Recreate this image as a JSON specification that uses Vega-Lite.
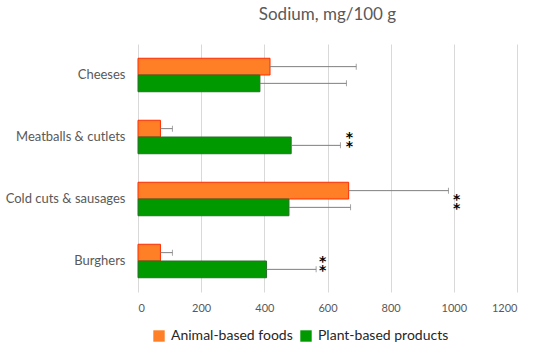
{
  "$schema": "https://vega.github.io/schema/vega-lite/v6.json",
  "width": 379,
  "height": 248,
  "autosize": "none",
  "padding": {"left": 138, "top": 44, "right": 33, "bottom": 62},
  "background": "white",
  "title": {"text": "Sodium, mg/100 g", "anchor": "middle", "fontSize": 17, "font": "Lato", "fontWeight": "normal", "color": "#595959", "offset": 20},
  "config": {"view": {"stroke": null}, "font": "Lato"},
  "datasets": {
    "bars": [
      {"food": "Cheeses", "type": "Animal-based foods", "value": 418, "high": 691},
      {"food": "Cheeses", "type": "Plant-based products", "value": 386, "high": 660},
      {"food": "Meatballs & cutlets", "type": "Animal-based foods", "value": 71, "high": 109},
      {"food": "Meatballs & cutlets", "type": "Plant-based products", "value": 485, "high": 641},
      {"food": "Cold cuts & sausages", "type": "Animal-based foods", "value": 667, "high": 983},
      {"food": "Cold cuts & sausages", "type": "Plant-based products", "value": 478, "high": 673},
      {"food": "Burghers", "type": "Animal-based foods", "value": 71, "high": 109},
      {"food": "Burghers", "type": "Plant-based products", "value": 407, "high": 564}
    ],
    "stars": [
      {"food": "Meatballs & cutlets", "pos": 669},
      {"food": "Cold cuts & sausages", "pos": 1009},
      {"food": "Burghers", "pos": 585}
    ]
  },
  "layer": [
    {
      "data": {"name": "bars"},
      "mark": {"type": "bar", "strokeWidth": 1},
      "encoding": {
        "y": {"field": "food", "type": "nominal", "sort": ["Cheeses", "Meatballs & cutlets", "Cold cuts & sausages", "Burghers"],
              "scale": {"paddingInner": 0.46, "paddingOuter": 0.23},
              "axis": {"title": null, "ticks": false, "domain": false, "labelPadding": 13, "labelFontSize": 13, "labelColor": "#595959", "labelFont": "Lato"}},
        "yOffset": {"field": "type", "type": "nominal", "sort": ["Animal-based foods", "Plant-based products"]},
        "x": {"field": "value", "type": "quantitative", "scale": {"domain": [0, 1200], "nice": false},
              "axis": {"title": null, "values": [0, 200, 400, 600, 800, 1000, 1200], "format": "d", "grid": true, "gridColor": "#d9d9d9", "domain": false, "ticks": false, "labelPadding": 10, "labelFontSize": 11, "labelColor": "#595959"}},
        "color": {"field": "type", "type": "nominal", "scale": {"domain": ["Animal-based foods", "Plant-based products"], "range": ["#ff7f27", "#009900"]},
                  "legend": {"title": null, "orient": "none", "legendX": 14, "legendY": 285, "direction": "horizontal", "symbolType": "square", "symbolSize": 130, "symbolStrokeWidth": 0, "labelFontSize": 14, "labelColor": "#262626", "columnPadding": 6, "labelOffset": 5, "symbolOpacity": 1}},
        "stroke": {"field": "type", "type": "nominal", "scale": {"domain": ["Animal-based foods", "Plant-based products"], "range": ["#ff2a00", "#2a6e2a"]}, "legend": null}
      }
    },
    {
      "data": {"name": "bars"},
      "mark": {"type": "rule", "color": "#7f7f7f", "strokeWidth": 1},
      "encoding": {
        "y": {"field": "food", "type": "nominal", "sort": ["Cheeses", "Meatballs & cutlets", "Cold cuts & sausages", "Burghers"]},
        "yOffset": {"field": "type", "type": "nominal", "sort": ["Animal-based foods", "Plant-based products"]},
        "x": {"field": "value", "type": "quantitative"},
        "x2": {"field": "high"}
      }
    },
    {
      "data": {"name": "bars"},
      "mark": {"type": "tick", "color": "#7f7f7f", "thickness": 1, "size": 6, "orient": "vertical"},
      "encoding": {
        "y": {"field": "food", "type": "nominal", "sort": ["Cheeses", "Meatballs & cutlets", "Cold cuts & sausages", "Burghers"]},
        "yOffset": {"field": "type", "type": "nominal", "sort": ["Animal-based foods", "Plant-based products"]},
        "x": {"field": "high", "type": "quantitative"}
      }
    },
    {
      "data": {"name": "stars"},
      "mark": {"type": "text", "text": "*", "fontSize": 14, "fontWeight": "bold", "color": "#000000", "align": "center", "baseline": "alphabetic", "dy": 5, "font": "DejaVu Sans"},
      "encoding": {
        "y": {"field": "food", "type": "nominal", "sort": ["Cheeses", "Meatballs & cutlets", "Cold cuts & sausages", "Burghers"]},
        "x": {"field": "pos", "type": "quantitative"}
      }
    },
    {
      "data": {"name": "stars"},
      "mark": {"type": "text", "text": "*", "fontSize": 14, "fontWeight": "bold", "color": "#000000", "align": "center", "baseline": "alphabetic", "dy": 14, "font": "DejaVu Sans"},
      "encoding": {
        "y": {"field": "food", "type": "nominal", "sort": ["Cheeses", "Meatballs & cutlets", "Cold cuts & sausages", "Burghers"]},
        "x": {"field": "pos", "type": "quantitative"}
      }
    }
  ]
}
